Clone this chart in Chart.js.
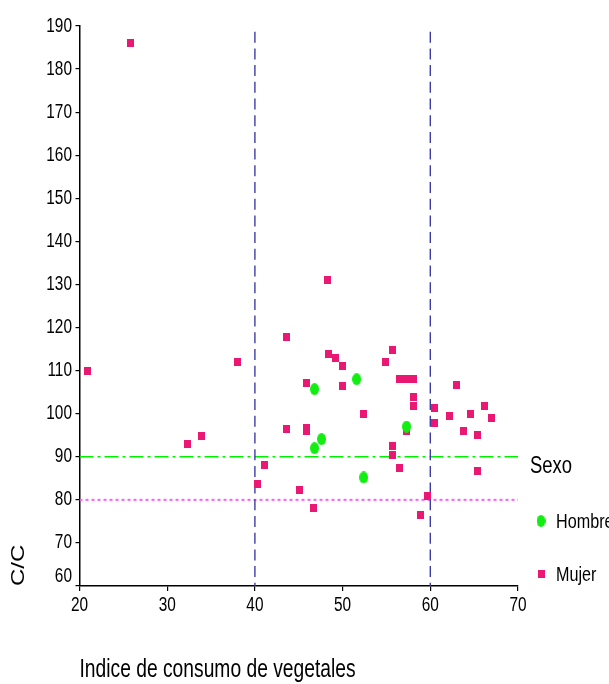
<!DOCTYPE html>
<html>
<head>
<meta charset="utf-8">
<script src="https://cdn.jsdelivr.net/npm/chart.js@4.4.1/dist/chart.umd.min.js"></script>
<style>
  html, body { margin: 0; padding: 0; background: #ffffff; }
  #wrap { width: 609px; height: 684px; position: relative; }
</style>
</head>
<body>
<div id="wrap"><canvas id="c" width="609" height="684"></canvas></div>
<script>
// Vegetable consumption index (x) against C/C (y), split by sex
const hombreX = [46.8, 47.6, 46.8, 51.6, 52.4, 57.3];
const hombreY = [105.7, 94.1, 92.0, 108.0, 85.2, 97.0];

const mujerX = [25.8, 20.9, 32.3, 33.9, 38.0, 40.35, 41.15, 43.6, 43.6, 45.1,
                45.9, 45.9, 45.9, 46.7, 48.3, 48.4, 49.2, 50.0, 50.0, 52.4,
                54.9, 55.7, 55.7, 55.7, 56.5, 57.3, 58.1, 56.5, 57.3, 58.1,
                58.1, 58.9, 59.7, 60.5, 60.5, 62.2, 63.0, 63.8, 64.6, 65.4,
                65.4, 66.2, 67.0];
const mujerY = [186.0, 110.0, 93.0, 94.9, 111.9, 83.75, 88.0, 117.9, 96.4, 82.3,
                107.1, 96.6, 95.9, 78.2, 131.0, 113.9, 112.9, 111.0, 106.5, 99.9,
                111.9, 114.9, 92.5, 90.5, 108.0, 108.0, 108.0, 87.4, 96.0, 103.8,
                101.8, 76.4, 80.9, 101.4, 97.9, 99.4, 106.6, 96.0, 99.9, 95.0,
                86.8, 101.9, 98.9];

const xTickValues = [20, 30, 40, 50, 60, 70];
const yTickValues = [60, 70, 80, 90, 100, 110, 120, 130, 140, 150, 160, 170, 180, 190];

// reference cut-offs
const cutX = [40, 60];
const cutY90 = 90;
const cutY80 = 80;

const seriesNames = ['Hombre', 'Mujer'];
const legendTitle = 'Sexo';
const xTitle = 'Indice de consumo de vegetales';
const yTitle = 'C/C';

const GREEN = '#12ee12';
const PINK = '#ea1872';
const FAMILY = '"Liberation Sans", Arial, sans-serif';
const SQUEEZE = 0.77; // condensed look for all text

function ellipseMarker(w, h, color) {
  const c = document.createElement('canvas');
  c.width = w; c.height = h;
  const g = c.getContext('2d');
  g.fillStyle = color;
  g.beginPath();
  g.ellipse(w / 2, h / 2, w / 2, h / 2, 0, 0, Math.PI * 2);
  g.fill();
  return c;
}
function rectMarker(w, h, color) {
  const c = document.createElement('canvas');
  c.width = w; c.height = h;
  const g = c.getContext('2d');
  g.fillStyle = color;
  g.fillRect(0, 0, w, h);
  return c;
}
const circleImg = ellipseMarker(9, 12, GREEN);
const squareImg = rectMarker(7, 8, PINK);

const zip = (xs, ys) => xs.map((x, i) => ({ x: x, y: ys[i] }));
const xMin = xTickValues[0], xMax = xTickValues[xTickValues.length - 1];
const yMin = yTickValues[0], yMax = yTickValues[yTickValues.length - 1];

const refLine = (pts, color, dash, width, offset) => ({
  type: 'line', data: pts, borderColor: color, borderDash: dash, borderDashOffset: offset || 0,
  borderWidth: width, pointRadius: 0, pointHoverRadius: 0, fill: false, tension: 0,
  order: 5, showLine: true
});

const datasets = [
  { label: seriesNames[0], data: zip(hombreX, hombreY), pointStyle: circleImg, order: 0 },
  { label: seriesNames[1], data: zip(mujerX, mujerY), pointStyle: squareImg, order: 1 },
  refLine([{ x: cutX[0], y: yMax }, { x: cutX[0], y: yMin }], '#3c3ca8', [11, 5.7], 1.4, 11),
  refLine([{ x: cutX[1], y: yMax }, { x: cutX[1], y: yMin }], '#3c3ca8', [11, 5.7], 1.4, 11),
  refLine([{ x: xMin, y: cutY90 }, { x: xMax, y: cutY90 }], '#00f000', [14, 4, 3, 4], 1.4),
  refLine([{ x: xMin, y: cutY80 }, { x: xMax, y: cutY80 }], '#ff5cff', [3, 3], 2)
];

function squeezedText(ctx, text, x, y, size, align, rotate) {
  ctx.save();
  ctx.translate(x, y);
  ctx.scale(SQUEEZE, 1);
  if (rotate) ctx.rotate(-Math.PI / 2);
  ctx.font = size + 'px ' + FAMILY;
  ctx.textAlign = align;
  ctx.textBaseline = 'middle';
  ctx.fillStyle = '#000';
  ctx.fillText(text, 0, 0);
  ctx.restore();
}

// tick labels, axis titles and the legend, all in condensed lettering
const textLayer = {
  id: 'textLayer',
  afterDraw(chart) {
    const ctx = chart.ctx;
    const xs = chart.scales.x, ys = chart.scales.y;
    const base = xs.top;

    xTickValues.forEach(v => squeezedText(ctx, String(v), xs.getPixelForValue(v), 605, 20, 'center'));
    yTickValues.forEach(v => {
      let py = ys.getPixelForValue(v);
      if (v === yMin) py -= 10;
      squeezedText(ctx, String(v), 72, py, 20, 'right');
    });

    squeezedText(ctx, xTitle, chart.chartArea.left, 670, 25, 'left');
    squeezedText(ctx, yTitle, 19, base, 24, 'left', true);

    squeezedText(ctx, legendTitle, 530, 466, 24, 'left');
    const items = [{ img: circleImg, y: 521 }, { img: squareImg, y: 574 }];
    items.forEach((it, i) => {
      ctx.drawImage(it.img, 541 - it.img.width / 2, it.y - it.img.height / 2);
      squeezedText(ctx, chart.data.datasets[i].label, 556, it.y + 1, 21, 'left');
    });
  }
};

new Chart(document.getElementById('c'), {
  type: 'scatter',
  data: { datasets: datasets },
  options: {
    responsive: false,
    animation: false,
    devicePixelRatio: 1,
    layout: { padding: { left: 0, top: 26, right: 91, bottom: 0 } },
    plugins: { legend: { display: false }, tooltip: { enabled: false } },
    scales: {
      x: {
        type: 'linear', min: xMin, max: xMax,
        afterBuildTicks: s => { s.ticks = xTickValues.map(v => ({ value: v })); },
        afterFit: s => { s.height = 98; },
        grid: { drawOnChartArea: false, drawTicks: true, tickLength: 5, color: '#000', lineWidth: 1.2 },
        border: { display: true, color: '#000', width: 1.5 },
        ticks: { callback: () => '', maxRotation: 0 }
      },
      y: {
        type: 'linear', min: yMin, max: yMax,
        afterBuildTicks: s => { s.ticks = yTickValues.map(v => ({ value: v })); },
        afterFit: s => { s.width = 79.5; },
        grid: { drawOnChartArea: false, drawTicks: true, tickLength: 4, color: '#000', lineWidth: 1.2 },
        border: { display: true, color: '#000', width: 1.5 },
        ticks: { callback: () => '' }
      }
    }
  },
  plugins: [textLayer]
});
</script>
</body>
</html>
